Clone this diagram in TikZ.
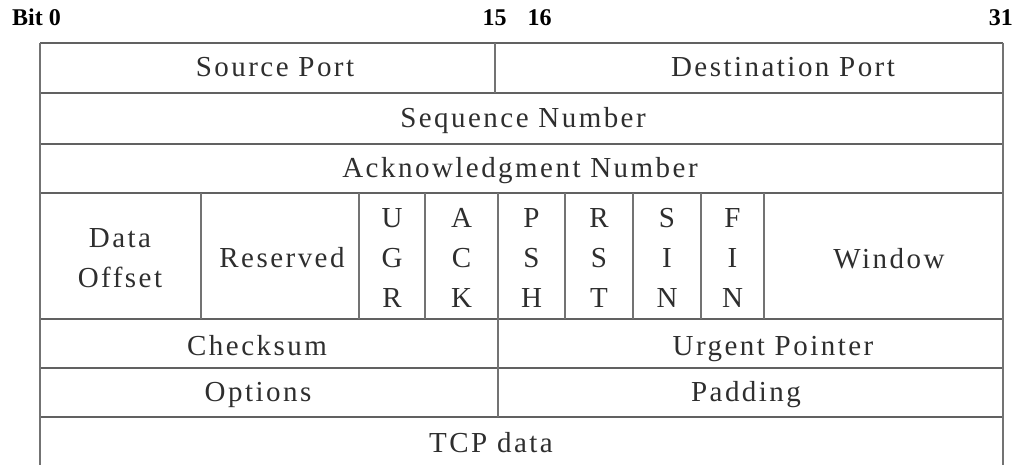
\documentclass[tikz,border=0pt]{standalone}
\usepackage{fontspec}
\setmainfont{Liberation Serif}
\newfontfamily\cellfont[LetterSpace=8.5]{Liberation Serif}
\begin{document}
\begin{tikzpicture}[x=1pt,y=-1pt,
  hline/.style={draw=black!62, line width=2pt},
  vline/.style={draw=black!55, line width=1.5pt},
  lbl/.style={font=\cellfont\fontsize{29}{34}\selectfont, text=black!82, inner sep=0pt, anchor=base},
  bitlbl/.style={font=\bfseries\fontsize{24}{28}\selectfont, inner sep=0pt, anchor=base}]
\useasboundingbox (0,0) rectangle (1016,465);
% header bit numbers
\node[bitlbl, anchor=base west] (bit0) at (12,26) {Bit 0};
\node[bitlbl] (b15) at (494.5,26) {15};
\node[bitlbl] (b16) at (539.5,26) {16};
\node[bitlbl, anchor=base east] (b31) at (1013,26) {31};
% horizontal lines
\foreach \y in {43,93,144,193,319,368,417}
  \draw[hline] (40,\y) -- (1003,\y);
% outer verticals (open at bottom)
\draw[vline] (40,43) -- (40,465);
\draw[vline] (1003,43) -- (1003,465);
% row 1 divider
\draw[vline] (495,43) -- (495,93);
% flags row dividers
\foreach \x in {201,359,425,498,565,633,701,764}
  \draw[vline] (\x,193) -- (\x,319);
% checksum/options dividers
\draw[vline] (498,319) -- (498,417);
% texts
\node[lbl] (src) at (275,77) {Source Port};
\node[lbl] (dst) at (783,77) {Destination Port};
\node[lbl] (seq) at (523,128) {Sequence Number};
\node[lbl] (ack) at (520,178) {Acknowledgment Number};
\node[lbl] (off1) at (120,247) {Data};
\node[lbl] (off2) at (120,287) {Offset};
\node[lbl] (res) at (282,267) {Reserved};
\foreach \x/\a/\b/\c [count=\i] in {392/U/G/R, 461.5/A/C/K, 531.5/P/S/H, 599/R/S/T, 667/S/I/N, 732.5/F/I/N}{
  \node[lbl] (f\i a) at (\x,227) {\a};
  \node[lbl] (f\i b) at (\x,267) {\b};
  \node[lbl] (f\i c) at (\x,307) {\c};
}
\node[lbl] (win) at (889,268) {Window};
\node[lbl] (chk) at (257,355) {Checksum};
\node[lbl] (urg) at (773,355) {Urgent Pointer};
\node[lbl] (opt) at (258,401) {Options};
\node[lbl] (pad) at (746,401) {Padding};
\node[lbl] (data) at (491,452) {TCP data};
\end{tikzpicture}
\end{document}
